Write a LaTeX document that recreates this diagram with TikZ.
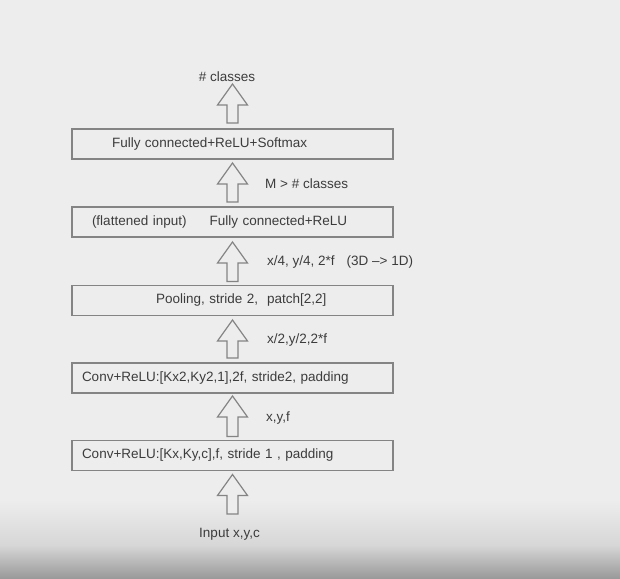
\documentclass[tikz,border=0pt]{standalone}
\usepackage{fontspec}
\setmainfont{Liberation Sans}
\usetikzlibrary{calc}
\definecolor{bg}{HTML}{EDEDED}
\definecolor{ink}{HTML}{3C3C3C}
\definecolor{edge}{HTML}{848484}
\definecolor{shadeA}{HTML}{D6D6D6}
\definecolor{shadeB}{HTML}{9A9A9A}
\tikzset{
  layer/.style={draw=edge, line width=1.2pt, minimum width=321pt, minimum height=30pt,
    inner xsep=0pt, inner ysep=0pt, text width=321pt, align=left, text=ink,
    font=\fontsize{13.5}{15}\selectfont},
  lbl/.style={text=ink, inner sep=0pt, font=\fontsize{13.5}{15}\selectfont},
  blockarrow/.style={draw=edge, line width=1.2pt, fill=bg, line join=miter},
}
\newcommand\uparrowblock[2]{%
  \draw[blockarrow] let \p1=(#1), \p2=(#2) in
   (\x1-5.5pt,\y1) -- (\x1-5.5pt,\y2-21pt) -- (\x1-15pt,\y2-21pt) -- (\x1,\y2)
   -- (\x1+15pt,\y2-21pt) -- (\x1+5.5pt,\y2-21pt) -- (\x1+5.5pt,\y1) -- cycle;}
\begin{document}
\begin{tikzpicture}[x=1pt,y=-1pt]
\fill[bg] (0,0) rectangle (620,578);
\shade[top color=bg, bottom color=shadeA] (0,500) rectangle (620,546);
\shade[top color=shadeA, bottom color=shadeB] (0,545.5) rectangle (620,578);
\useasboundingbox (0,0) rectangle (620,578);

\node[layer] (fc2) at (232.5,144) {\hspace*{40pt}Fully connected+ReLU+Softmax};
\node[layer] (fc1) at (232.5,222) {\hspace*{20pt}(flattened input)\hspace{23pt}Fully connected+ReLU};
\node[layer] (pool) at (232.5,300.5) {\hspace*{84pt}Pooling, stride 2,\ \ patch[2,2]};
\node[layer] (conv2) at (232.5,378) {\hspace*{10pt}Conv+ReLU:[Kx2,Ky2,1],2f, stride2, padding};
\node[layer] (conv1) at (232.5,455.5) {\hspace*{10pt}Conv+ReLU:[Kx,Ky,c],f, stride 1 , padding};

\node[lbl] (out) at (227,77) {\# classes};
\node[lbl] (in) at (229.5,534) {Input x,y,c};

\coordinate (a0t) at (232.5,84);  \coordinate (a0b) at (232.5,123);
\coordinate (a1t) at (232.5,163); \coordinate (a1b) at (232.5,202);
\coordinate (a2t) at (232.5,242); \coordinate (a2b) at (232.5,281.5);
\coordinate (a3t) at (232.5,320); \coordinate (a3b) at (232.5,358);
\coordinate (a4t) at (232.5,396); \coordinate (a4b) at (232.5,436.5);
\coordinate (a5t) at (232.5,474.5); \coordinate (a5b) at (232.5,514);

\uparrowblock{a0b}{a0t}
\uparrowblock{a1b}{a1t}
\uparrowblock{a2b}{a2t}
\uparrowblock{a3b}{a3t}
\uparrowblock{a4b}{a4t}
\uparrowblock{a5b}{a5t}

\node[lbl, anchor=west] (l1) at (265,183.5) {M > \# classes};
\node[lbl, anchor=west] (l2) at (267,262.5) {x/4, y/4, 2*f\hspace{12pt}(3D \textendash> 1D)};
\node[lbl, anchor=west] (l3) at (267,340) {x/2,y/2,2*f};
\node[lbl, anchor=west] (l4) at (266,418) {x,y,f};
\end{tikzpicture}
\end{document}
